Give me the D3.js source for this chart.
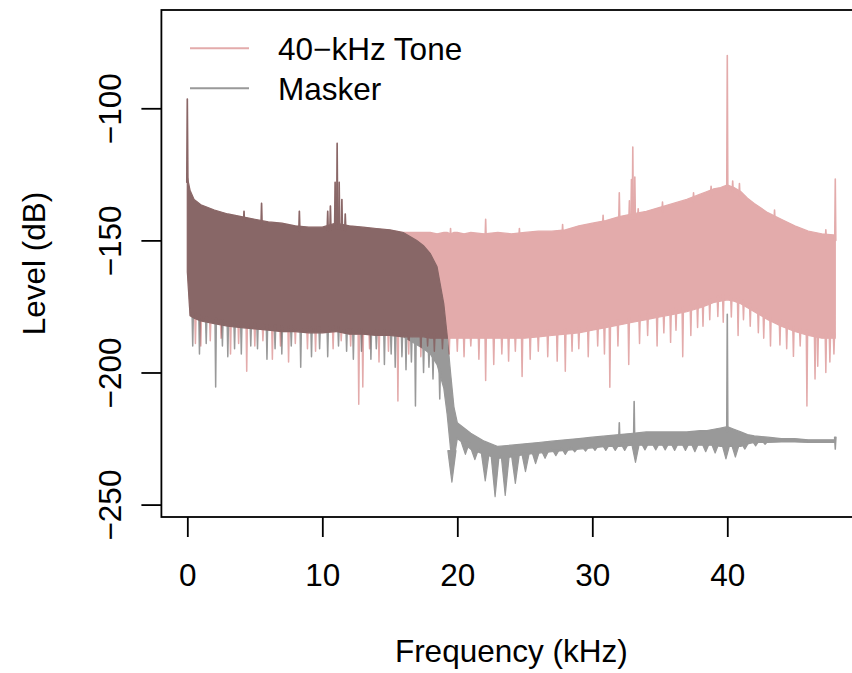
<!DOCTYPE html>
<html>
<head>
<meta charset="utf-8">
<script src="https://cdn.jsdelivr.net/npm/d3@7"></script>
<style>
  body { margin: 0; background: #fff; }
  svg text { font-family: "Liberation Sans", Arial, sans-serif; }
</style>
</head>
<body>
<div id="chart"></div>
<script>
// frequency grid (kHz) on which the band edges were read
const freqs = [0, 0.2, 0.5, 1, 2, 3, 4, 5, 6, 7, 8, 9, 10, 11, 12, 13, 14, 15, 16, 16.5, 17, 17.5, 18, 18.5,
  19, 19.25, 19.5, 19.75, 20, 20.5, 21, 22, 23, 24, 25, 26, 27, 28, 29, 30, 31, 32, 33, 34, 35, 36, 37, 38,
  38.5, 39, 39.5, 40, 40.5, 41, 41.5, 42, 43, 44, 45, 46, 47, 48];

// 40-kHz tone: upper and lower edge of the dense band (dB)
const toneHi = [-126, -131, -134.5, -136.5, -138.5, -140, -141, -142, -143, -143.5, -144.5, -145, -145, -143.5,
  -144.5, -145, -145.5, -146, -147, -147, -147, -147, -147, -147.5, -147, -147, -147.5, -147, -147, -147.5,
  -147, -147.5, -147, -147.5, -147, -146.5, -146.5, -146, -144.5, -143.5, -142.5, -141, -140, -139, -137.5,
  -136, -134.5, -132.5, -131.5, -130.5, -130, -129, -130, -131.5, -134, -136, -139.5, -142, -144.5, -146.5,
  -147.5, -148];
const toneLo = [-162, -178.5, -179.5, -180.5, -181.5, -182.5, -183, -183.5, -184, -184.5, -184.5, -185, -185,
  -184.5, -185.5, -185.5, -186, -186, -186.5, -186.5, -186.5, -186.5, -187, -187, -187, -187, -187, -187, -187,
  -187, -187, -187, -187, -187, -187, -186.5, -186, -185.5, -185, -184, -183, -182, -181, -180, -179, -178,
  -177, -175.5, -174.5, -173.5, -173, -172.5, -173, -174, -175.5, -177, -180, -182.5, -184.5, -186, -187, -187];

// masker: upper and lower edge of the band (dB)
const maskHi = [-126, -131, -134.5, -136.5, -138.5, -140, -141, -142, -143, -143.5, -144.5, -145, -145, -143.5,
  -144.5, -145, -145.5, -146, -147, -148.5, -150, -152, -155, -160, -174, -186, -200, -213, -219, -221, -223,
  -226, -228, -227.5, -227, -226.5, -226, -225.5, -225, -224.5, -224, -223.5, -223, -222.5, -222.5, -222.5,
  -222.5, -222, -222, -221.5, -221, -220.5, -221.5, -222.5, -223.5, -224, -224.5, -225, -225, -225.5, -225.5,
  -225.5];
const maskLo = [-162, -178.5, -179.5, -180.5, -181.5, -182.5, -183, -183.5, -184, -184.5, -184.5, -185, -185,
  -184.5, -185.5, -185.5, -186, -186, -186.5, -188, -189.5, -191, -193, -197, -206, -216, -229, -233, -225,
  -227, -229, -231, -232.5, -232, -231, -230.5, -230, -229.5, -229, -228.5, -228, -228, -227.5, -227.5, -227.5,
  -227.5, -227.5, -227.5, -227.5, -227.5, -228, -228, -228, -228, -227, -226.5, -226.5, -226.3, -226.3, -226.5,
  -226.5, -226.5];

// narrow peaks [kHz, dB]
const tonePeaks = [[0, -96.5], [4.2, -139], [5.5, -136], [8.3, -139], [10.4, -139], [10.6, -137], [10.95, -128],
  [11.1, -113.3], [11.25, -128], [11.45, -134.5], [11.7, -140], [19.5, -145.5], [22.1, -142], [24.6, -145.5],
  [27.8, -144], [30.8, -140.5], [32.0, -132], [32.75, -135], [32.9, -127], [33.0, -114.7], [33.15, -126],
  [33.4, -138], [35.2, -135.5], [37.5, -132], [38.8, -129.5], [40.0, -80], [40.4, -127.5], [40.9, -128.5],
  [43.5, -138.5], [47.3, -146], [48.0, -126.8]];
const maskPeaks = [[0, -96.5], [4.2, -139], [5.5, -136], [8.3, -139], [10.4, -139], [10.6, -137], [10.95, -128],
  [11.1, -113.3], [11.25, -128], [11.45, -134.5], [11.7, -140], [32.0, -219], [33.1, -211], [40.0, -178]];

// narrow downward spikes [kHz, dB]
const toneDips = [[0.6, -189], [1.0, -190], [1.7, -188], [2.5, -187], [3.2, -193], [3.8, -189], [4.4, -199.5],
  [5.0, -190], [5.6, -188], [6.3, -195], [6.9, -190], [7.5, -196], [8.0, -189], [8.9, -191], [9.5, -192],
  [10.8, -191], [11.4, -188], [12.1, -190], [12.7, -212], [13.0, -205.5], [13.5, -191], [14.2, -196],
  [14.9, -192], [15.6, -210.8], [16.4, -193], [17.3, -194], [17.8, -190], [18.3, -192], [18.9, -191],
  [19.4, -193], [20.0, -192], [20.5, -194], [21.0, -190], [21.6, -195], [22.1, -203], [22.7, -197],
  [23.3, -193], [23.8, -195.7], [24.3, -192], [24.8, -201.5], [25.4, -195], [26.0, -192], [26.7, -194],
  [27.4, -195.7], [28.0, -199.5], [28.5, -192], [29.0, -191], [29.7, -194], [30.4, -190], [30.9, -193],
  [31.3, -205.6], [31.9, -190], [32.7, -197], [33.5, -189], [34.1, -186], [34.8, -190], [35.3, -185],
  [35.8, -188.6], [36.2, -184], [36.7, -194], [37.3, -186], [37.8, -183], [38.2, -182.5], [38.7, -180],
  [39.3, -178.8], [39.7, -181], [40.3, -179], [40.8, -186], [41.2, -180], [41.7, -182.5], [42.3, -185],
  [42.7, -187], [43.2, -190], [43.9, -189.6], [44.4, -191], [44.9, -193.9], [45.4, -190], [45.9, -212.7],
  [46.5, -202.5], [46.7, -197.6], [47.3, -200], [47.6, -196], [47.9, -193]];
const maskDips = [[0.4, -190], [0.9, -193], [1.4, -189], [2.1, -205.5], [2.6, -190], [3.0, -194], [3.5, -191],
  [4.0, -193], [4.7, -190], [5.2, -191], [5.9, -195], [6.5, -191], [7.0, -193], [7.7, -190], [8.4, -198],
  [9.2, -194], [9.8, -191], [10.4, -194], [11.2, -190], [11.8, -192], [12.3, -195], [12.9, -192], [13.6, -195],
  [14.0, -191], [14.6, -197], [15.1, -193], [15.4, -198], [15.9, -194], [16.2, -199], [16.6, -196],
  [16.9, -212.7], [17.5, -200], [17.9, -198], [18.2, -202.5], [18.7, -210], [48.0, -229]];
// wider ripple lobes of the masker above the cutoff [kHz, dB]
const maskLobes = [[19.6, -241.5], [20.6, -231], [21.3, -233], [22.07, -241], [22.8, -247], [23.55, -246.5],
  [24.3, -242], [25.05, -237.5], [25.8, -234.5], [26.5, -232.5], [27.3, -231.5], [28.0, -231], [28.7, -230],
  [29.5, -229.8], [30.2, -229.5], [31.0, -229.5], [31.7, -229.5], [32.4, -229.5], [33.2, -234], [33.9, -229.3],
  [34.7, -229.3], [35.4, -229.3], [36.1, -229.5], [36.9, -229.5], [37.6, -230], [38.4, -230], [39.1, -230.5],
  [39.9, -232.7], [40.6, -232], [41.3, -229], [42.1, -227.8], [42.8, -227.2]];

const xTicks = [0, 10, 20, 30, 40];
const yTicks = [-250, -200, -150, -100];
const legendLabels = ["40\u2212kHz Tone", "Masker"];

const toneCol = "#e3abab";
const maskCol = "#999999";
const fontSize = 31.5;

const width = 852, height = 673;
const svg = d3.select("#chart").append("svg")
  .attr("width", width)
  .attr("height", height)
  .style("background", "#fff");

const x = d3.scaleLinear().domain([-1.92, 49.92]).range([161.4, 861.2]);
const y = d3.scaleLinear().domain([-254.7, -62.8]).range([517, 10]);

svg.append("clipPath").attr("id", "plot-clip")
  .append("rect").attr("x", 161.4).attr("y", 10).attr("width", 699.8).attr("height", 507);

function drawSeries(g, hi, lo, peaks, dips, lobes, col) {
  const rows = freqs.map((f, i) => ({f, hi: hi[i], lo: lo[i]}));
  const hiAt = d3.scaleLinear().domain(freqs).range(hi);
  const loAt = d3.scaleLinear().domain(freqs).range(lo);

  g.append("path")
    .datum(rows)
    .attr("d", d3.area().x(d => x(d.f)).y0(d => y(d.lo)).y1(d => y(d.hi)))
    .attr("fill", col).attr("stroke", col).attr("stroke-width", 1.2);

  const spike = (f, v, w, base) => {
    return "M" + x(f - w) + "," + y(base) + "L" + x(f) + "," + y(v) + "L" + x(f + w) + "," + y(base) + "Z";
  };

  g.selectAll(".peak").data(peaks).join("path")
    .attr("d", d => spike(d[0], d[1], 0.04, hiAt(d[0]) - 2))
    .attr("fill", col).attr("stroke", col).attr("stroke-width", 1.6).attr("stroke-linejoin", "round");

  g.selectAll(".dip").data(dips).join("path")
    .attr("d", d => spike(d[0], d[1], 0.05, loAt(d[0]) + 2))
    .attr("fill", col).attr("stroke", col).attr("stroke-width", 1.5).attr("stroke-linejoin", "round");

  g.selectAll(".lobe").data(lobes).join("path")
    .attr("d", d => spike(d[0], d[1], 0.3, loAt(d[0]) + 1))
    .attr("fill", col).attr("stroke", col).attr("stroke-width", 1.2).attr("stroke-linejoin", "round");
}

const plot = svg.append("g").attr("clip-path", "url(#plot-clip)");
const toneG = plot.append("g");
drawSeries(toneG, toneHi, toneLo, tonePeaks, toneDips, [], toneCol);
const maskG = plot.append("g").style("mix-blend-mode", "multiply");
drawSeries(maskG, maskHi, maskLo, maskPeaks, maskDips, maskLobes, maskCol);

// box
svg.append("rect")
  .attr("x", 161.4).attr("y", 10)
  .attr("width", 861.2 - 161.4).attr("height", 507)
  .attr("fill", "none").attr("stroke", "#000").attr("stroke-width", 1.8);

const fmt = d => (d < 0 ? "\u2212" + Math.abs(d) : String(d));

const xAxis = svg.append("g")
  .attr("transform", "translate(0,517)")
  .call(d3.axisBottom(x).tickValues(xTicks).tickSize(20).tickFormat(fmt));
xAxis.select(".domain").remove();
xAxis.attr("font-size", fontSize).attr("font-family", null);
xAxis.selectAll(".tick line").attr("stroke-width", 1.8);
xAxis.selectAll(".tick text").attr("y", 47).attr("fill", "#000");

const yAxis = svg.append("g")
  .attr("transform", "translate(161.4,0)")
  .call(d3.axisLeft(y).tickValues(yTicks).tickSize(20).tickFormat(fmt));
yAxis.select(".domain").remove();
yAxis.attr("font-size", fontSize).attr("font-family", null);
yAxis.selectAll(".tick line").attr("stroke-width", 1.8);
yAxis.selectAll(".tick text")
  .attr("x", null).attr("dy", null)
  .attr("text-anchor", "middle")
  .attr("transform", "translate(-40,0) rotate(-90)")
  .attr("fill", "#000");

svg.append("text")
  .attr("x", 511.3).attr("y", 662)
  .attr("text-anchor", "middle")
  .attr("font-size", fontSize)
  .text("Frequency (kHz)");

svg.append("text")
  .attr("transform", "translate(45,263.5) rotate(-90)")
  .attr("text-anchor", "middle")
  .attr("font-size", fontSize)
  .text("Level (dB)");

// legend
const legend = svg.append("g");
const legendCols = [toneCol, maskCol];
legendLabels.forEach((label, i) => {
  const ly = 48.3 + i * 40;
  legend.append("line")
    .attr("x1", 190).attr("x2", 249).attr("y1", ly).attr("y2", ly)
    .attr("stroke", legendCols[i]).attr("stroke-width", 2);
  legend.append("text")
    .attr("x", 278).attr("y", ly + 11.5)
    .attr("font-size", fontSize)
    .text(label);
});
</script>
</body>
</html>
